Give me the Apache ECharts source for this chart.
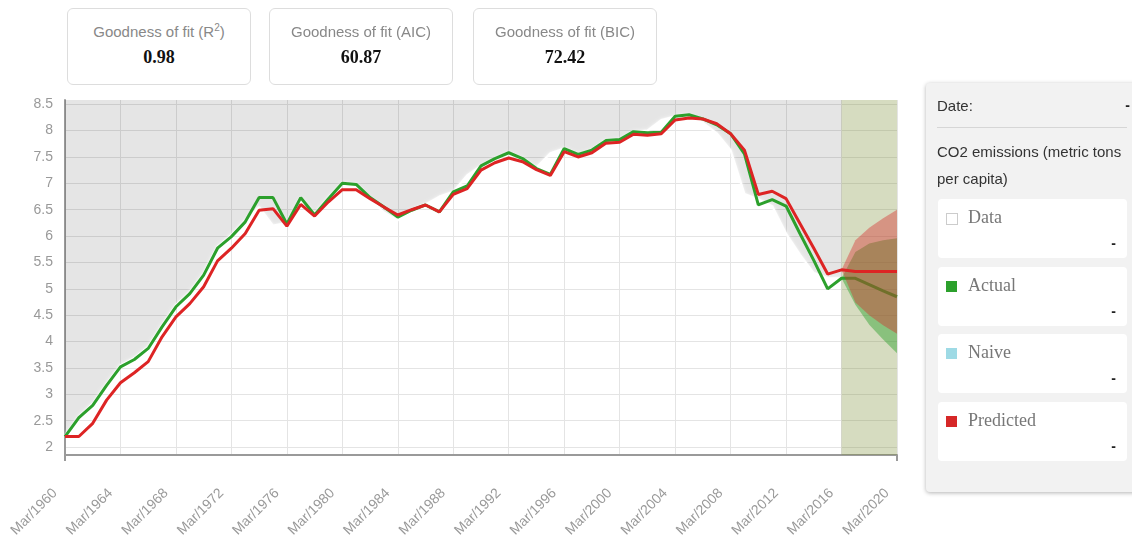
<!DOCTYPE html>
<html>
<head>
<meta charset="utf-8">
<script src="https://cdn.jsdelivr.net/npm/echarts@6/dist/echarts.min.js"></script>
<style>
	html, body { margin: 0; padding: 0; background: #fff; }
	#wrap { position: relative; width: 1132px; height: 545px; overflow: hidden; font-family: 'Liberation Sans', Arial, sans-serif; }
	#chart { position: absolute; left: 0; top: 0; width: 1132px; height: 545px; }
	.fit { position: absolute; top: 8px; width: 182px; height: 75px; border: 1px solid #ddd; border-radius: 6px; background: #fff; text-align: center; }
	.fit .t { margin-top: 14px; font-size: 15px; line-height: 18px; color: #888; }
	.fit .t sup { font-size: 10px; line-height: 0; }
	.fit .v { margin-top: 6px; font-family: 'Liberation Serif', 'Times New Roman', serif; font-weight: bold; font-size: 18px; color: #111; }
	#panel { position: absolute; left: 926px; top: 83px; width: 216px; height: 409px; background: #f2f2f2; border-radius: 4px; box-shadow: 0 1px 4px rgba(0,0,0,0.3); }
	#panel .date { position: absolute; left: 11px; top: 14px; font-size: 15px; color: #333; }
	#panel .dash { position: absolute; font-weight: bold; font-size: 14px; color: #222; }
	#panel .sep { position: absolute; left: 11px; top: 44px; width: 190px; height: 1px; background: #d6d6d6; }
	#panel .name { position: absolute; left: 11px; top: 55px; width: 200px; font-size: 15px; line-height: 27px; color: #333; }
	.card { position: absolute; left: 12px; width: 189px; height: 59px; background: #fff; border-radius: 4px; }
	.card .sw { position: absolute; left: 8px; top: 14px; width: 11px; height: 11px; }
	.card .lb { position: absolute; left: 30px; top: 8px; font-family: 'Liberation Serif', 'Times New Roman', serif; font-size: 18px; color: #777; }
	.card .dash { right: 11px; top: 36px; }
</style>
</head>
<body>
<div id="wrap">
	<div id="chart"></div>
	<div class="fit" style="left:67px"><div class="t">Goodness of fit (R<sup>2</sup>)</div><div class="v">0.98</div></div>
	<div class="fit" style="left:269px"><div class="t">Goodness of fit (AIC)</div><div class="v">60.87</div></div>
	<div class="fit" style="left:473px"><div class="t">Goodness of fit (BIC)</div><div class="v">72.42</div></div>
	<div id="panel">
		<div class="date">Date:</div><div class="dash" style="right:12px;top:14px">-</div>
		<div class="sep"></div>
		<div class="name">CO2 emissions (metric tons per capita)</div>
		<div class="card" style="top:116px"><div class="sw" style="background:#fff;border:1px solid #ccc;width:10px;height:10px"></div><div class="lb">Data</div><div class="dash">-</div></div>
		<div class="card" style="top:184px"><div class="sw" style="background:#2ca02c"></div><div class="lb">Actual</div><div class="dash">-</div></div>
		<div class="card" style="top:251px"><div class="sw" style="background:#9edae5"></div><div class="lb">Naive</div><div class="dash">-</div></div>
		<div class="card" style="top:319px"><div class="sw" style="background:#d62728"></div><div class="lb">Predicted</div><div class="dash">-</div></div>
	</div>
</div>
<script>
const years = [
	1960, 1961, 1962, 1963, 1964, 1965, 1966, 1967, 1968, 1969,
	1970, 1971, 1972, 1973, 1974, 1975, 1976, 1977, 1978, 1979,
	1980, 1981, 1982, 1983, 1984, 1985, 1986, 1987, 1988, 1989,
	1990, 1991, 1992, 1993, 1994, 1995, 1996, 1997, 1998, 1999,
	2000, 2001, 2002, 2003, 2004, 2005, 2006, 2007, 2008, 2009,
	2010, 2011, 2012, 2013, 2014, 2015, 2016, 2017, 2018, 2019, 2020
];

// 1960 - 2016
const actual = [
	2.20, 2.56, 2.79, 3.17, 3.52, 3.66, 3.87, 4.28, 4.66, 4.91,
	5.26, 5.77, 5.99, 6.27, 6.73, 6.73, 6.23, 6.73, 6.40, 6.71,
	7.00, 6.98, 6.73, 6.55, 6.36, 6.49, 6.59, 6.46, 6.84, 6.95,
	7.33, 7.47, 7.58, 7.47, 7.28, 7.17, 7.66, 7.55, 7.63, 7.81,
	7.83, 7.98, 7.96, 7.97, 8.27, 8.30, 8.22, 8.11, 7.94, 7.56,
	6.59, 6.69, 6.57, 6.05, 5.54, 5.00, 5.20
];
const predicted = [
	2.20, 2.20, 2.45, 2.89, 3.22, 3.41, 3.62, 4.09, 4.47, 4.72,
	5.04, 5.53, 5.77, 6.05, 6.49, 6.52, 6.19, 6.60, 6.38, 6.65,
	6.88, 6.88, 6.71, 6.55, 6.40, 6.50, 6.59, 6.46, 6.79, 6.90,
	7.25, 7.39, 7.48, 7.41, 7.26, 7.15, 7.60, 7.50, 7.58, 7.76,
	7.78, 7.93, 7.91, 7.94, 8.20, 8.24, 8.22, 8.13, 7.94, 7.63,
	6.79, 6.85, 6.71, 6.24, 5.77, 5.28, 5.36
];
const observed = [
	2.22, 2.58, 2.82, 3.20, 3.55, 3.69, 3.90, 4.31, 4.69, 4.94,
	5.29, 5.80, 6.02, 6.30, 6.55, 6.20, 6.25, 6.70, 6.42, 6.73,
	7.00, 6.98, 6.70, 6.45, 6.30, 6.49, 6.60, 6.75, 6.84, 7.15,
	7.33, 7.47, 7.58, 7.47, 7.30, 7.57, 7.66, 7.55, 7.63, 7.81,
	7.83, 7.98, 8.00, 8.20, 8.27, 8.30, 8.15, 7.95, 7.63, 6.80,
	6.70, 6.57, 6.05, 5.65, 5.30, 5.20, 5.20
];

// forecast 2016 - 2020
const actualFcst = [5.20, 5.20, 5.08, 4.96, 4.85];
const actualUpper = [5.20, 5.70, 5.86, 5.92, 5.96];
const actualLower = [5.20, 4.70, 4.32, 4.04, 3.78];
const predFcst = [5.36, 5.33, 5.33, 5.33, 5.33];
const predUpper = [5.36, 5.92, 6.16, 6.34, 6.50];
const predLower = [5.36, 4.74, 4.50, 4.31, 4.15];

const yTicks = [2, 2.5, 3, 3.5, 4, 4.5, 5, 5.5, 6, 6.5, 7, 7.5, 8, 8.5];
const Y_MIN = 1.85, Y_MAX = 8.58;

const lead = years.length - actualFcst.length; // index of 2016
const pad = n => new Array(n).fill(null);
const histLine = arr => arr.concat(pad(years.length - arr.length));
const fcstLine = arr => pad(lead).concat(arr);
const diff = (a, b) => a.map((v, i) => +(v - b[i]).toFixed(3));

const font = "'Liberation Sans', Arial, sans-serif";

const chart = echarts.init(document.getElementById('chart'));
chart.setOption({
	animation: false,
	grid: { left: 65, right: 235, top: 100, bottom: 90 },
	xAxis: {
		type: 'category',
		data: years,
		boundaryGap: false,
		axisLine: { lineStyle: { color: '#9a9a9a', width: 2 } },
		axisTick: { show: true, interval: i => i === 0 || i === years.length - 1, length: 6, lineStyle: { color: '#9a9a9a', width: 2 } },
		axisLabel: {
			interval: 3, rotate: 45, margin: 26, padding: [0, 14, 0, 0],
			color: '#999', fontSize: 14, fontFamily: font,
			formatter: v => 'Mar/' + v
		},
		splitLine: { show: true, interval: 3, lineStyle: { color: '#e4e4e4' } }
	},
	yAxis: {
		type: 'value',
		min: Y_MIN, max: Y_MAX, splitNumber: 13,
		axisLine: { show: true, lineStyle: { color: '#9a9a9a', width: 2 } },
		axisTick: { show: false },
		axisLabel: {
			color: '#999', fontSize: 14, fontFamily: font, margin: 12,
			showMinLabel: false, showMaxLabel: false,
			formatter: v => yTicks.some(t => Math.abs(t - v) < 1e-6) ? String(v) : ''
		},
		splitLine: { lineStyle: { color: '#e4e4e4' }, showMinLine: false, showMaxLine: false }
	},
	series: [
		{
			name: 'Data', type: 'line', stack: 'bg', z: 2, symbol: 'none',
			data: histLine(observed),
			lineStyle: { color: '#fff', width: 2, shadowBlur: 3, shadowColor: 'rgba(255,255,255,0.9)' }
		},
		{
			name: 'bg', type: 'line', stack: 'bg', z: 1, symbol: 'none',
			data: histLine(observed.map(v => +(Y_MAX - v).toFixed(3))),
			lineStyle: { width: 0 },
			areaStyle: { color: 'rgba(0,0,0,0.1)', opacity: 1 },
			markArea: {
				silent: true,
				itemStyle: { color: 'rgba(118,138,45,0.3)' },
				data: [[{ xAxis: String(years[lead]) }, { xAxis: String(years[years.length - 1]) }]]
			}
		},
		{
			name: 'actualLow', type: 'line', stack: 'ab', z: 3, symbol: 'none',
			data: fcstLine(actualLower), lineStyle: { width: 0 }
		},
		{
			name: 'actualBand', type: 'line', stack: 'ab', z: 3, symbol: 'none',
			data: fcstLine(diff(actualUpper, actualLower)), lineStyle: { width: 0 },
			areaStyle: { color: 'rgba(44,160,44,0.45)', opacity: 1 }
		},
		{
			name: 'Actual', type: 'line', z: 4, symbol: 'none',
			data: histLine(actual).map((v, i) => i > lead ? actualFcst[i - lead] : v),
			lineStyle: { color: '#2ca02c', width: 3 }
		},
		{
			name: 'predLow', type: 'line', stack: 'pb', z: 5, symbol: 'none',
			data: fcstLine(predLower), lineStyle: { width: 0 }
		},
		{
			name: 'predBand', type: 'line', stack: 'pb', z: 5, symbol: 'none',
			data: fcstLine(diff(predUpper, predLower)), lineStyle: { width: 0 },
			areaStyle: { color: 'rgba(214,39,40,0.4)', opacity: 1 }
		},
		{
			name: 'Predicted', type: 'line', z: 6, symbol: 'none',
			data: histLine(predicted).map((v, i) => i > lead ? predFcst[i - lead] : v),
			lineStyle: { color: '#dd2424', width: 3 }
		}
	]
});
</script>
</body>
</html>
